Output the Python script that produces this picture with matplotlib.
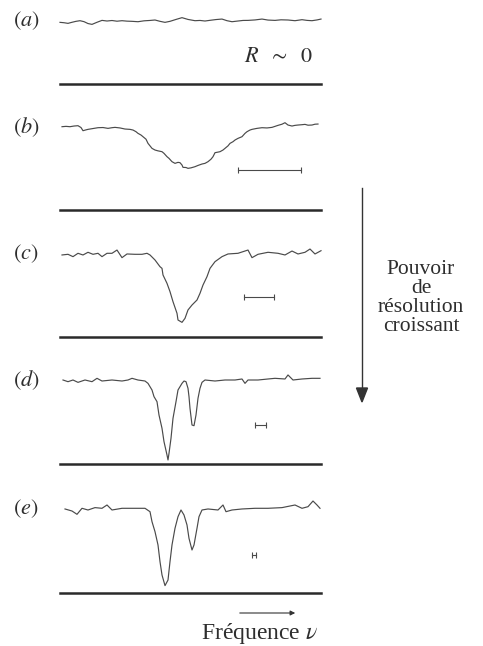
import matplotlib
matplotlib.use("Agg")
import matplotlib.pyplot as plt

plt.rcParams['font.family'] = ['Liberation Serif', 'DejaVu Serif']
plt.rcParams['mathtext.fontset'] = 'stix'

# Spectra: frequency (arbitrary units), signal (continuum = 1, zero line = 0)
freq_a = [0, 4, 8, 12, 16, 20, 24, 28, 32, 37, 42, 47, 52, 57, 62, 67, 72, 78, 84, 90, 95, 100,
          105, 110, 116, 122, 128, 135, 140, 145, 150, 156, 162, 167, 172, 178, 183, 188, 195,
          202, 208, 215, 221, 228, 235, 242, 247, 252, 257, 261]
sig_a = [0.974, 0.968, 0.958, 0.975, 0.99, 1.0, 0.985, 0.955, 0.942, 0.975, 1.005, 0.995, 1.003,
         0.992, 1.0, 0.993, 0.99, 0.984, 0.998, 1.004, 1.011, 0.99, 0.974, 0.99, 1.02, 1.048,
         1.02, 1.0, 1.004, 0.995, 1.006, 1.018, 1.026, 1.0, 0.984, 0.995, 1.004, 1.005, 1.012,
         1.026, 1.01, 1.005, 1.014, 1.011, 1.0, 1.016, 1.005, 1.0, 1.012, 1.026]

freq_b = [2, 6, 10, 14, 18, 21, 23, 26, 28, 33, 38, 43, 48, 52, 55, 60, 65, 70, 73, 76, 78, 81,
          83, 86, 88, 90, 92, 95, 98, 102, 104, 107, 109, 112, 115, 118, 120, 122, 123, 126, 128,
          131, 135, 138, 142, 145, 148, 151, 153, 155, 158, 160, 163, 165, 168, 170, 173, 175,
          178, 182, 185, 187, 190, 192, 197, 202, 207, 212, 215, 218, 222, 225, 228, 232, 235,
          238, 242, 245, 248, 252, 255, 258]
sig_b = [1.0, 1.004, 1.0, 1.008, 1.012, 0.99, 0.952, 0.962, 0.968, 0.978, 0.988, 0.99, 0.98,
         0.988, 0.992, 0.985, 0.972, 0.968, 0.96, 0.94, 0.92, 0.9, 0.88, 0.85, 0.8, 0.77, 0.74,
         0.72, 0.71, 0.7, 0.68, 0.64, 0.62, 0.58, 0.56, 0.572, 0.568, 0.54, 0.512, 0.51, 0.5,
         0.506, 0.52, 0.535, 0.552, 0.56, 0.58, 0.61, 0.64, 0.688, 0.695, 0.7, 0.72, 0.74, 0.77,
         0.8, 0.82, 0.84, 0.86, 0.88, 0.92, 0.94, 0.96, 0.968, 0.98, 0.988, 0.985, 0.992, 1.004,
         1.016, 1.03, 1.048, 1.02, 1.008, 1.016, 1.02, 1.024, 1.028, 1.018, 1.02, 1.03, 1.032]

freq_c = [2, 8, 13, 18, 23, 28, 33, 38, 42, 47, 52, 57, 62, 67, 75, 82, 87, 90, 95, 100, 102,
          103, 107, 110, 113, 117, 118, 122, 125, 128, 132, 137, 140, 143, 147, 150, 155, 162,
          168, 178, 188, 192, 198, 208, 218, 225, 232, 238, 245, 250, 255, 261]
sig_c = [0.98, 0.988, 0.96, 1.0, 0.98, 1.012, 0.988, 1.0, 0.96, 1.0, 1.0, 1.039, 0.948, 0.992,
         0.988, 0.988, 1.0, 0.98, 0.92, 0.84, 0.82, 0.741, 0.641, 0.542, 0.422, 0.283, 0.203,
         0.175, 0.223, 0.323, 0.382, 0.442, 0.522, 0.621, 0.721, 0.82, 0.9, 0.96, 0.992, 1.0,
         1.039, 0.948, 0.988, 1.012, 1.0, 0.98, 1.027, 0.992, 1.012, 1.051, 0.992, 1.031]

freq_d = [3, 8, 13, 18, 25, 32, 37, 42, 52, 62, 68, 72, 78, 85, 88, 92, 94, 97, 99, 102, 104,
          107, 108, 109, 111, 113, 116, 118, 122, 124, 126, 128, 129, 130, 132, 134, 136, 138,
          140, 142, 145, 155, 165, 175, 182, 185, 188, 198, 208, 215, 225, 228, 233, 242, 252, 260]
sig_d = [1.0, 0.98, 1.0, 0.972, 1.0, 0.98, 1.02, 0.988, 1.0, 0.988, 1.0, 1.02, 1.0, 0.988, 0.96,
         0.881, 0.802, 0.742, 0.583, 0.425, 0.266, 0.107, 0.048, 0.127, 0.306, 0.544, 0.742,
         0.881, 0.96, 0.988, 0.98, 0.901, 0.802, 0.663, 0.464, 0.456, 0.583, 0.782, 0.901, 0.972,
         1.0, 0.988, 1.0, 1.0, 1.012, 0.96, 1.0, 1.0, 1.012, 1.02, 1.012, 1.06, 1.0, 1.012, 1.02,
         1.02]

freq_e = [5, 12, 17, 22, 28, 35, 42, 47, 52, 62, 75, 85, 90, 92, 95, 98, 100, 102, 105, 108, 110,
          112, 115, 118, 121, 124, 127, 129, 132, 134, 137, 139, 142, 148, 158, 163, 166, 172,
          182, 195, 208, 222, 235, 242, 248, 253, 257, 260]
sig_e = [0.992, 0.968, 0.929, 1.0, 0.98, 1.008, 1.0, 1.039, 0.98, 1.0, 1.0, 1.0, 0.96, 0.842,
         0.724, 0.567, 0.37, 0.213, 0.087, 0.153, 0.37, 0.567, 0.764, 0.901, 0.98, 0.921, 0.803,
         0.645, 0.508, 0.567, 0.764, 0.901, 0.98, 0.992, 0.98, 1.039, 0.96, 0.98, 0.992, 1.0,
         1.0, 1.008, 1.039, 1.0, 1.019, 1.086, 1.039, 1.0]

# instrumental width bars (start, end, level)
bar_b = (178, 241, 0.48)
bar_c = (184, 214, 0.48)
bar_d = (195, 206, 0.47)
bar_e = (192, 196, 0.45)

letters = ['a', 'b', 'c', 'd', 'e']
traces = [(freq_a, sig_a), (freq_b, sig_b), (freq_c, sig_c), (freq_d, sig_d), (freq_e, sig_e)]
bars = [None, bar_b, bar_c, bar_d, bar_e]

W, H = 483, 646
fig = plt.figure(figsize=(W / 100, H / 100), dpi=100)

# panel placement in pixels: (continuum y, zero-line y)
rows = [(20.7, 84), (126.7, 210), (253.3, 337), (380, 464), (508.3, 593)]
x0, x1 = 60, 321
ink = '#4a4a4a'
txt = '#2e2e2e'

for (cont, base), let, (f, s), bar in zip(rows, letters, traces, bars):
    ax = fig.add_axes([x0 / W, 1 - base / H, (x1 - x0) / W, (base - cont) / H])
    ax.set_xlim(0, x1 - x0)
    ax.set_ylim(0, 1)
    ax.axis('off')
    ax.plot(f, s, color=ink, lw=0.85, clip_on=False)
    ax.axhline(0, color='#2a2a2a', lw=1.8, clip_on=False)
    if bar is not None:
        ax.plot([bar[0], bar[1]], [bar[2], bar[2]], color=ink, lw=0.8,
                marker='|', markersize=5, mew=0.8)
    fig.text(26 / W, 1 - cont / H, r'$(\mathit{%s})$' % let, fontsize=16, ha='center',
             va='center', color=txt)

fig.text(279 / W, 1 - 57 / H, r'$R\ \ \sim\ \ 0$', fontsize=16, ha='center', va='center',
         color=txt)

# resolving power arrow and caption
fig.add_artist(plt.Line2D([362 / W, 362 / W], [1 - 188 / H, 1 - 392 / H], color='#333333',
                          lw=1.0))
fig.patches.append(matplotlib.patches.FancyArrow(362 / W, 1 - 388 / H, 0, -14 / H, width=0.0001,
                                                 head_width=11 / W, head_length=14 / H,
                                                 length_includes_head=True, color='#333333',
                                                 transform=fig.transFigure))
fig.text(421 / W, 1 - 298 / H, 'Pouvoir\nde\nrésolution\ncroissant', fontsize=15.5,
         ha='center', va='center', linespacing=0.98, color=txt)

# frequency direction
fig.add_artist(matplotlib.patches.FancyArrowPatch((237 / W, 1 - 613 / H), (298 / W, 1 - 613 / H),
                                                  transform=fig.transFigure, arrowstyle='-|>',
                                                  mutation_scale=7, lw=0.8, color='#333333'))
fig.text(260 / W, 1 - 634 / H, 'Fréquence $\\nu$', fontsize=17, ha='center', va='center',
         color=txt)

fig.savefig('out.png', dpi=100, facecolor='white')
